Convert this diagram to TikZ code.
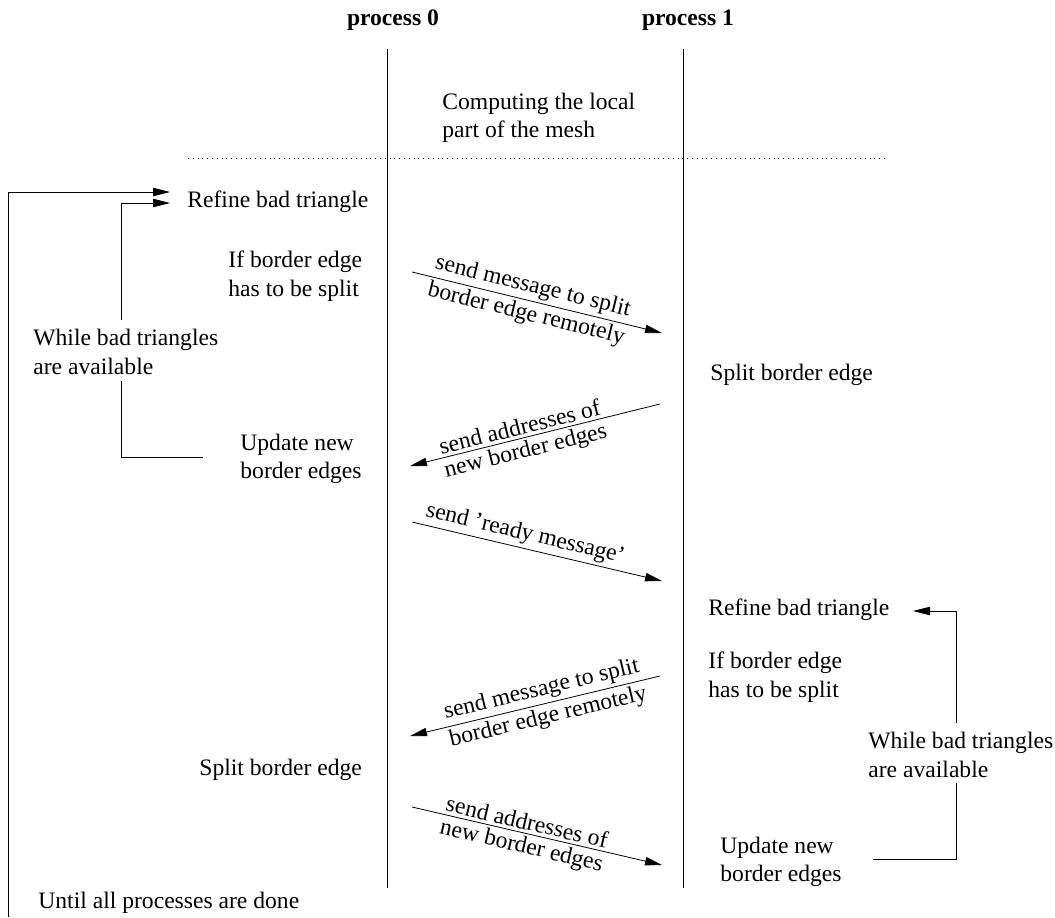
\documentclass[tikz,border=0pt]{standalone}
\usepackage{fontspec}
\setmainfont{Liberation Serif}
\usetikzlibrary{arrows.meta,positioning}

\begin{document}
\begin{tikzpicture}[x=0.5pt,y=-0.5pt,>={Triangle[length=8.5pt,width=4.2pt]}]
    \fontsize{11.8}{14.2}\selectfont
    \tikzstyle{lbl}=[anchor=west, align=left, inner sep=0pt]
    \tikzstyle{msg}=[sloped, inner sep=1.5pt]
    \useasboundingbox (0,0) rectangle (1055,917);
    % the two processes and their time lines
    \node[font=\bfseries] (p0) at (393,20) {process 0};
    \node[font=\bfseries] (p1) at (688,20) {process 1};
    \coordinate (t0) at (387,49);
    \coordinate (b0) at (387,888);
    \coordinate (t1) at (683,49);
    \coordinate (b1) at (683,888);
    \draw (t0) -- (b0);
    \draw (t1) -- (b1);
    \node[lbl] (comp) at (442,118) {Computing the local\\part of the mesh};
    \coordinate (d0) at (188,158);
    \coordinate (d1) at (885,158);
    \draw[dotted] (d0) -- (d1);
    % steps on process 0
    \node[lbl] (ref0) at (187,202) {Refine bad triangle};
    \node[lbl] (if0) at (228,276) {If border edge\\has to be split};
    \node[lbl] (while0) at (33,352) {While bad triangles\\are available};
    \node[lbl] (upd0) at (240,459) {Update new\\border edges};
    \node[lbl] (split0) at (199,770) {Split border edge};
    \node[lbl] (until) at (38,903) {Until all processes are done};
    % steps on process 1
    \node[lbl] (split1) at (710,375) {Split border edge};
    \node[lbl] (ref1) at (708,610) {Refine bad triangle};
    \node[lbl] (if1) at (708,677) {If border edge\\has to be split};
    \node[lbl] (while1) at (868,755) {While bad triangles\\are available};
    \node[lbl] (upd1) at (720,862) {Update new\\border edges};
    % messages between the processes
    \foreach \n/\xa/\ya/\xb/\yb/\p/\up/\down in {
        1/412/272/662/333/0.47/{send message to split}/{border edge remotely},
        2/660/404/410/466/0.55/{send addresses of}/{new border edges},
        4/660/676/410/736/0.46/{send message to split}/{border edge remotely},
        5/412/807/662/865/0.45/{send addresses of}/{new border edges}} {
        \coordinate (s\n) at (\xa,\ya);
        \coordinate (e\n) at (\xb,\yb);
        \draw[->] (s\n) -- (e\n) node[msg,pos=\p,above] {\up} node[msg,pos=\p,below] {\down};
    }
    \coordinate (s3) at (412,522);
    \coordinate (e3) at (662,581);
    \draw[->] (s3) -- (e3) node[msg,pos=0.44,above] {send 'ready message'};
    % loops
    \coordinate (o0) at (8,917);
    \coordinate (o1) at (170,192);
    \draw[->] (o0) |- (o1);
    \coordinate (w0) at (203,457);
    \coordinate (w1) at (121,381);
    \coordinate (w2) at (121,320);
    \coordinate (w3) at (170,203);
    \draw (w0) -| (w1);
    \draw[->] (w2) |- (w3);
    \coordinate (r0) at (873,859);
    \coordinate (r1) at (956,783);
    \coordinate (r2) at (956,723);
    \coordinate (r3) at (913,611);
    \draw (r0) -| (r1);
    \draw[->] (r2) |- (r3);
\end{tikzpicture}
\end{document}
